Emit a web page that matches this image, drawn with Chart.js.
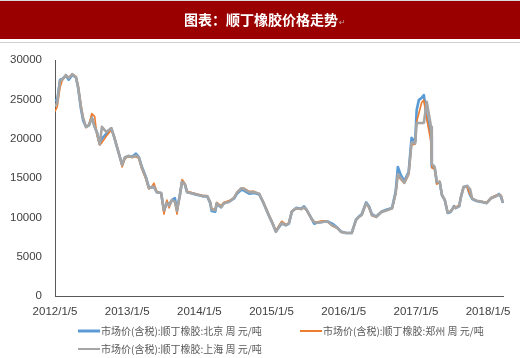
<!DOCTYPE html>
<html>
<head>
<meta charset="utf-8">
<script src="https://cdn.jsdelivr.net/npm/chart.js@4.4.1/dist/chart.umd.min.js"></script>
<style>
html,body{margin:0;padding:0;background:#fff;}
canvas{display:block;}
</style>
</head>
<body>
<canvas id="c" width="520" height="358"></canvas>
<script>
const titleText = "图表：顺丁橡胶价格走势";
const seriesLabels = ["市场价(含税):顺丁橡胶:北京 周 元/吨", "市场价(含税):顺丁橡胶:郑州 周 元/吨", "市场价(含税):顺丁橡胶:上海 周 元/吨"];
const tickYears = [2012, 2013, 2014, 2015, 2016, 2017, 2018];
const yTicks = [0, 5000, 10000, 15000, 20000, 25000, 30000];

const dates = [2012.00,2012.03,2012.07,2012.10,2012.15,2012.19,2012.24,2012.29,2012.32,2012.36,2012.39,2012.43,2012.47,2012.51,2012.55,2012.58,2012.62,2012.65,2012.71,2012.78,2012.82,2012.86,2012.91,2012.93,2012.97,
2013.02,2013.07,2013.12,2013.16,2013.20,2013.26,2013.30,2013.34,2013.37,2013.41,2013.47,2013.51,2013.55,2013.58,2013.62,2013.66,2013.69,2013.73,2013.76,2013.80,2013.83,2013.88,2013.95,
2014.04,2014.11,2014.15,2014.17,2014.22,2014.24,2014.30,2014.34,2014.41,2014.48,2014.52,2014.58,2014.62,2014.69,2014.76,2014.83,2014.89,2014.96,
2015.01,2015.06,2015.10,2015.14,2015.20,2015.24,2015.28,2015.34,2015.41,2015.45,2015.49,2015.55,2015.59,2015.63,2015.70,2015.77,2015.84,2015.91,2015.96,
2016.03,2016.11,2016.17,2016.21,2016.25,2016.31,2016.35,2016.39,2016.45,2016.52,2016.60,2016.67,2016.72,2016.75,2016.79,2016.84,2016.90,2016.94,2016.99,
2017.01,2017.04,2017.08,2017.11,2017.15,2017.21,2017.22,2017.26,2017.29,2017.33,2017.36,2017.40,2017.44,2017.48,2017.53,2017.55,2017.60,2017.62,2017.66,2017.71,2017.75,2017.78,2017.84,2017.91,2017.98,
2018.04,2018.11,2018.15,2018.18,2018.20];

const shanghai = [24200,24500,27400,27500,28100,27700,28200,27800,26600,24000,22600,21500,21700,22600,21500,20850,19300,21500,20850,21350,20200,18900,17300,16650,17650,
17800,17650,17850,17650,16400,15000,13700,13850,13900,13200,13100,10900,11800,11500,12200,12000,10800,12850,14500,14200,13200,13100,12950,
12700,12700,11950,11000,10900,11800,11300,11800,11950,12450,13100,13700,13600,13200,13200,13000,11800,10300,
9300,8150,8750,9300,9000,9250,10700,11150,11050,11300,10900,9900,9400,9300,9400,9500,9000,8650,8150,
8000,8000,9650,10050,10300,11800,11300,10300,10050,10650,10900,11150,13100,15500,15000,14400,15600,19500,19400,
22000,22000,22000,22000,24700,21500,16800,16400,14500,14500,12900,12200,10600,10700,11300,11200,11400,12400,13800,14000,13600,12400,12100,12000,11800,
12400,12700,12900,12700,12000];

const beijing = [24900,24800,27500,27600,28000,27500,28100,27800,26500,23800,22300,21500,21700,22700,21500,20800,19300,20000,20600,21300,20200,18900,17300,16700,17600,
17800,17700,18100,17700,16500,15100,13800,13800,13900,13200,13100,10800,11900,11600,12200,12450,11000,12800,14600,14200,13200,13100,12900,
12700,12650,11800,10800,10700,11700,11300,11800,12000,12400,13000,13500,13400,13000,13100,12900,11800,10300,
9300,8200,8700,9200,9000,9200,10700,11200,11100,11400,10900,9900,9200,9300,9400,9500,9200,8700,8200,
8000,8000,9700,10100,10400,11900,11400,10400,10100,10700,11000,11200,13300,16400,15400,14600,15800,20100,19600,
23600,24900,25200,25550,22750,20500,16400,16270,14360,14490,12840,12200,10550,10680,11440,11180,11440,12460,13860,13980,12840,12330,12075,11950,11820,
12460,12710,12970,12580,11950];

const zhengzhou = [23500,24000,26500,27400,28000,27800,28200,27900,26800,24300,22700,21400,21800,23200,22800,20500,19200,19500,20300,21100,20300,19000,17200,16400,17500,
17700,17600,17700,17500,16200,14800,13600,13900,14350,13300,13000,10400,12200,11200,12100,12000,10400,12900,14800,14300,13300,13200,13000,
12800,12750,12000,11100,11000,11900,11500,11900,12100,12500,13200,13700,13700,13300,13300,13000,11900,10400,
9400,8300,8900,9500,9100,9300,10800,11100,11000,11200,10800,9800,9400,9400,9550,9500,8900,8600,8200,
8050,8000,9600,10000,10300,11700,11200,10200,10000,10700,10900,11100,12900,15300,14800,14300,15400,19200,19300,
22100,23200,24600,24900,22500,19500,16300,16100,14200,14600,12800,12300,10600,10800,11400,11300,11500,12500,13900,13800,12900,12400,12100,12000,11900,
12500,12800,12900,12800,12200];

const colors = ["#5b9bd5", "#ed7d31", "#a5a5a5"];
const widths = [2.6, 1.6, 2.6];

function pts(arr){ return dates.map((d,i)=>({x:d, y:arr[i]})); }

const chromePlugin = {
  id: 'chrome',
  beforeDraw(chart){
    const ctx = chart.ctx;
    ctx.save();
    ctx.fillStyle = '#ffffff';
    ctx.fillRect(0,0,chart.width,chart.height);
    ctx.fillStyle = '#d9d9d9';
    ctx.fillRect(0,0,520,1);
    ctx.fillStyle = '#9a0000';
    ctx.fillRect(0,1,520,38);
    ctx.fillStyle = '#d0d0d0';
    ctx.fillRect(0,42,520,1);
    ctx.fillStyle = '#ffffff';
    ctx.font = 'bold 14px "Noto Sans CJK SC"';
    ctx.textAlign = 'center';
    ctx.textBaseline = 'middle';
    ctx.fillText(titleText, 261, 20);
    const w = ctx.measureText(titleText).width;
    ctx.fillStyle = '#c8a0a0';
    ctx.font = '8px "DejaVu Sans"';
    ctx.textAlign = 'left';
    ctx.fillText('↵', 261 + w/2 + 1, 23);
    ctx.restore();
  },
  afterDraw(chart){
    const ctx = chart.ctx;
    const items = [
      {x:78, y:331},
      {x:300, y:331},
      {x:78, y:349}
    ];
    ctx.save();
    ctx.font = '10px "Noto Sans CJK SC"';
    ctx.textBaseline = 'middle';
    ctx.textAlign = 'left';
    items.forEach((it,i)=>{
      ctx.strokeStyle = colors[i];
      ctx.lineWidth = i===0 ? 3 : 2;
      ctx.beginPath();
      ctx.moveTo(it.x, it.y);
      ctx.lineTo(it.x+22, it.y);
      ctx.stroke();
      ctx.fillStyle = '#595959';
      ctx.fillText(seriesLabels[i], it.x+23, it.y);
    });
    ctx.restore();
  }
};

new Chart(document.getElementById('c'), {
  type: 'line',
  data: {
    datasets: [
      {label: seriesLabels[0], data: pts(beijing), borderColor: colors[0], borderWidth: widths[0], order: 2},
      {label: seriesLabels[1], data: pts(zhengzhou), borderColor: colors[1], borderWidth: widths[1], order: 1},
      {label: seriesLabels[2], data: pts(shanghai), borderColor: colors[2], borderWidth: widths[2], order: 0}
    ]
  },
  options: {
    responsive: false,
    animation: false,
    events: [],
    elements: { point: { radius: 0 }, line: { tension: 0, borderJoinStyle: 'round', borderCapStyle: 'round' } },
    layout: { padding: { top: 60, right: 15, bottom: 32, left: 0 } },
    plugins: { legend: { display: false }, title: { display: false }, tooltip: { enabled: false } },
    scales: {
      x: {
        type: 'linear',
        min: 2012,
        max: 2018.22,
        grid: { display: false, drawTicks: false },
        border: { display: true, color: '#595959', width: 1 },
        afterBuildTicks(s){ s.ticks = tickYears.map(v=>({value:v})); },
        afterFit(s){ s.height = 30; },
        ticks: {
          autoSkip: false, maxRotation: 0, padding: 9,
          color: '#404040',
          font: { family: '"Liberation Sans"', size: 11.5 },
          callback: v => Math.round(v) + '/1/5'
        }
      },
      y: {
        min: 0,
        max: 30000,
        grid: { display: false, drawTicks: false },
        border: { display: true, color: '#595959', width: 1 },
        afterBuildTicks(s){ s.ticks = yTicks.map(v=>({value:v})); },
        afterFit(s){ s.width = 55; },
        ticks: {
          padding: 13,
          color: '#404040',
          font: { family: '"Liberation Sans"', size: 11.5 },
          callback: v => String(v)
        }
      }
    }
  },
  plugins: [chromePlugin]
});
</script>
</body>
</html>
